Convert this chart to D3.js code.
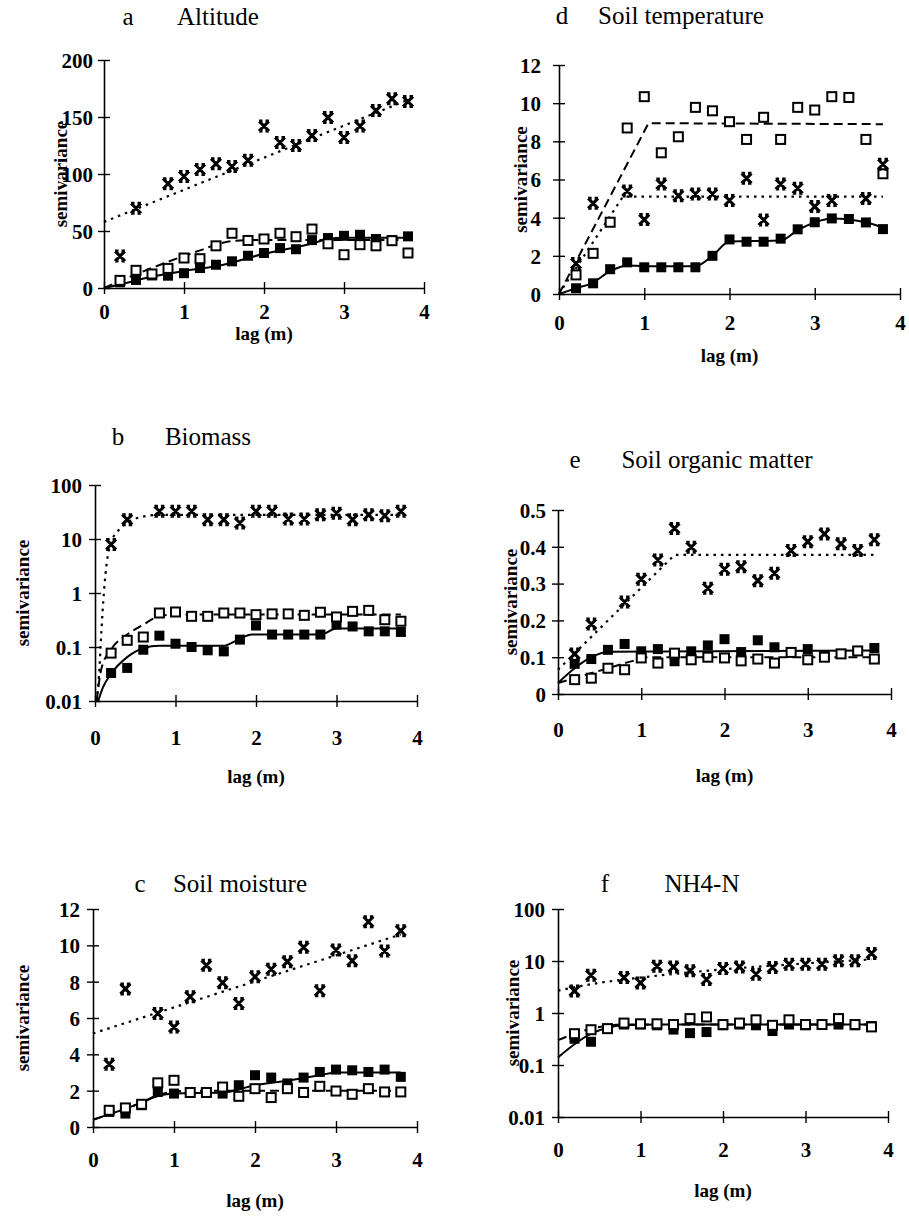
<!DOCTYPE html>
<html><head><meta charset="utf-8">
<script src="https://cdn.jsdelivr.net/npm/d3@7"></script>
<style>body{margin:0;background:#fff}svg{display:block}text{font-family:"Liberation Serif","Times New Roman",serif;fill:#000}</style>
</head><body>
<script>
// ---- data ----
const lags = [0.2,0.4,0.6,0.8,1.0,1.2,1.4,1.6,1.8,2.0,2.2,2.4,2.6,2.8,3.0,3.2,3.4,3.6,3.8];
const xTicks = [0,1,2,3,4];

// a Altitude
const altitudeFilled = [5,7,11,10.8,13,17.5,20.4,23.4,28.3,30.7,35,34,42,43.8,45.8,46.7,43,42,45.3];
const altitudeOpen   = [6.7,15.5,12.3,17.2,26.3,25.7,37,48,41.7,43,48,45,51.7,38.8,29.2,38,37,41.5,30.7];
const altitudeCross  = [28,70,null,91.4,97.8,104,109,106.6,112,142,127.6,125,133.7,149.5,132,142,155.6,166,163.5];
const altitudeFitFilled = [[0,0],[0.2,3],[0.6,10],[1.0,15],[1.4,19],[2.0,30],[2.6,39],[2.8,43],[3.0,44],[3.8,44]];
const altitudeFitOpen   = [[0,0],[0.4,12],[0.8,23],[1.2,33],[1.5,40],[1.8,42],[3.8,42]];
const altitudeFitCross  = [[0,58],[3.8,165]];
const altitudeTicks = [0,50,100,150,200];

// b Biomass
const biomassFilled = [0.033,0.041,0.089,0.162,0.115,0.1,0.087,0.083,0.137,0.25,0.17,0.17,0.17,0.17,0.26,0.24,0.195,0.195,0.19];
const biomassOpen   = [0.077,0.133,0.153,0.426,0.445,0.37,0.37,0.426,0.426,0.397,0.41,0.41,0.386,0.44,0.36,0.457,0.477,0.32,0.30];
const biomassCross  = [7.9,22.8,null,32.6,32.6,32.6,22.8,22.8,19.8,32.6,32.6,23.5,23.5,28,30,22.8,28,27,32.6];
const biomassFitFilled = [[0.04,0.01],[0.1,0.018],[0.2,0.032],[0.4,0.065],[0.6,0.095],[0.8,0.105],[1.6,0.105],[1.75,0.13],[1.95,0.17],[2.8,0.17],[3.0,0.22],[3.8,0.22]];
const biomassFitOpen   = [[0.02,0.01],[0.08,0.04],[0.2,0.09],[0.4,0.17],[0.6,0.26],[0.8,0.37],[1.0,0.4],[3.8,0.4]];
const biomassFitCross  = [[0.02,0.01],[0.05,0.03],[0.08,0.2],[0.11,1],[0.15,4],[0.2,8.5],[0.3,15],[0.4,20],[0.55,25],[0.8,28],[3.8,28]];
const logTicks = [0.01,0.1,1,10,100];

// c Soil moisture
const moistureFilled = [0.83,0.74,1.2,1.93,1.84,1.9,1.9,1.84,2.3,2.85,2.72,2.4,2.72,3.03,3.16,3.12,3.03,3.16,2.76];
const moistureOpen   = [0.92,1.05,1.25,2.43,2.57,1.9,1.9,2.2,1.69,2.11,1.62,2.11,1.9,2.24,1.98,1.8,2.11,1.93,1.93];
const moistureCross  = [3.46,7.6,null,6.25,5.5,7.17,8.9,7.94,6.8,8.27,8.68,9.1,9.89,7.5,9.74,9.15,11.3,9.69,10.8];
const moistureFitFilled = [[0,0.4],[0.2,0.7],[0.4,1.0],[0.6,1.35],[0.8,1.7],[1.0,1.85],[1.6,1.9],[2.0,2.3],[2.4,2.55],[2.8,2.85],[3.0,3.0],[3.8,3.0]];
const moistureFitOpen   = [[0,0.4],[0.2,0.7],[0.4,1.0],[0.6,1.35],[0.8,1.75],[1.0,1.95],[1.2,2.0],[3.8,2.0]];
const moistureFitCross  = [[0,5.15],[3.8,10.6]];
const moistureTicks = [0,2,4,6,8,10,12];

// d Soil temperature
const temperatureFilled = [0.3,0.56,1.3,1.66,1.4,1.4,1.4,1.4,2.0,2.86,2.74,2.74,2.9,3.39,3.76,3.96,3.93,3.75,3.4];
const temperatureOpen   = [1.0,2.13,3.76,8.7,10.34,7.4,8.24,9.78,9.6,9.03,8.1,9.26,8.1,9.78,9.64,10.34,10.3,8.1,6.3];
const temperatureCross  = [1.6,4.75,null,5.4,3.9,5.76,5.15,5.24,5.24,4.9,6.06,3.88,5.76,5.54,4.58,4.9,null,5.0,6.8];
const temperatureFitFilled = [[0,0],[0.2,0.3],[0.4,0.6],[0.6,1.2],[0.8,1.5],[1.0,1.45],[1.6,1.45],[1.8,2.0],[2.0,2.75],[2.6,2.8],[2.8,3.35],[3.0,3.75],[3.2,3.95],[3.4,3.9],[3.6,3.75],[3.8,3.5]];
const temperatureFitOpen   = [[0,0],[1.05,8.95],[3.8,8.9]];
const temperatureFitCross  = [[0,0],[0.75,5.1],[3.8,5.1]];
const temperatureTicks = [0,2,4,6,8,10,12];

// e Soil organic matter
const organicFilled = [0.082,0.095,0.12,0.136,0.116,0.122,0.089,0.116,0.132,0.149,0.114,0.146,0.127,0.114,0.122,0.104,0.109,0.117,0.125];
const organicOpen   = [0.039,0.043,0.07,0.066,0.098,0.084,0.111,0.093,0.1,0.098,0.09,0.095,0.084,0.113,0.093,0.1,0.109,0.117,0.095];
const organicCross  = [0.109,0.19,null,0.25,0.312,0.364,0.45,0.399,0.2875,0.339,0.346,0.308,0.328,0.39,0.414,0.435,0.408,0.39,0.419];
const organicFitFilled = [[0,0.03],[0.2,0.07],[0.4,0.1],[0.6,0.115],[3.8,0.118]];
const organicFitOpen   = [[0,0.03],[0.3,0.05],[0.6,0.07],[0.9,0.09],[1.1,0.1],[3.8,0.1]];
const organicFitCross  = [[0,0.066],[1.4,0.378],[3.8,0.378]];
const organicTicks = [0,0.1,0.2,0.3,0.4,0.5];

// f NH4-N
const nh4Filled = [0.32,0.28,0.5,0.6,0.6,0.58,0.48,0.41,0.43,0.58,0.6,0.58,0.45,0.6,0.58,0.6,0.6,0.58,0.56];
const nh4Open   = [0.4,0.477,0.5,0.64,0.62,0.62,0.6,0.78,0.84,0.6,0.64,0.74,0.58,0.74,0.6,0.6,0.78,0.6,0.54];
const nh4Cross  = [2.66,5.33,null,4.8,3.79,7.95,7.7,6.46,4.4,7.17,7.7,5.57,7.5,8.7,8.7,8.7,10.1,10.1,14];
const nh4FitFilled = [[0,0.14],[0.2,0.25],[0.4,0.4],[0.6,0.52],[0.8,0.58],[1.2,0.6],[3.8,0.6]];
const nh4FitOpen   = [[0,0.3],[0.2,0.4],[0.4,0.5],[0.6,0.57],[0.8,0.6],[3.8,0.6]];
const nh4FitCross  = [[0,2.7],[0.5,3.8],[1,4.8],[2,6.9],[3,9],[3.8,10.7]];

// ---- layout / chart ----
const panels = [
  {letter:'a', title:'Altitude', filled:altitudeFilled, open:altitudeOpen, cross:altitudeCross,
   fit:[altitudeFitFilled, altitudeFitOpen, altitudeFitCross], curves:['smooth','smooth','linear'],
   log:false, yDomain:[0,200], yTicks:altitudeTicks,
   xr:[104,424], yr:[288,60], letterX:128, titleX:218, titleY:25, ylabX:60, xtickY:319, xlabY:340, ytickR:93},
  {letter:'d', title:'Soil temperature', filled:temperatureFilled, open:temperatureOpen, cross:temperatureCross,
   fit:[temperatureFitFilled, temperatureFitOpen, temperatureFitCross], curves:['smooth','linear','linear'],
   log:false, yDomain:[0,12], yTicks:temperatureTicks,
   xr:[559,900], yr:[294,65], letterX:562, titleX:681, titleY:24, ylabX:520, xtickY:330, xlabY:362, ytickR:541},
  {letter:'b', title:'Biomass', filled:biomassFilled, open:biomassOpen, cross:biomassCross,
   fit:[biomassFitFilled, biomassFitOpen, biomassFitCross], curves:['smooth','smooth','smooth'],
   log:true, yDomain:[0.01,100], yTicks:logTicks,
   xr:[95,417], yr:[701,485], letterX:118, titleX:208, titleY:445, ylabX:22, xtickY:745, xlabY:783, ytickR:82},
  {letter:'e', title:'Soil organic matter', filled:organicFilled, open:organicOpen, cross:organicCross,
   fit:[organicFitFilled, organicFitOpen, organicFitCross], curves:['smooth','smooth','linear'],
   log:false, yDomain:[0,0.5], yTicks:organicTicks,
   xr:[558,891], yr:[694,510], letterX:575, titleX:717, titleY:468, ylabX:510, xtickY:737, xlabY:782, ytickR:546},
  {letter:'c', title:'Soil moisture', filled:moistureFilled, open:moistureOpen, cross:moistureCross,
   fit:[moistureFitFilled, moistureFitOpen, moistureFitCross], curves:['smooth','smooth','linear'],
   log:false, yDomain:[0,12], yTicks:moistureTicks,
   xr:[93,417], yr:[1127,909], letterX:140, titleX:240, titleY:892, ylabX:22, xtickY:1167, xlabY:1207, ytickR:80},
  {letter:'f', title:'NH4-N', filled:nh4Filled, open:nh4Open, cross:nh4Cross,
   fit:[nh4FitFilled, nh4FitOpen, nh4FitCross], curves:['smooth','smooth','smooth'],
   log:true, yDomain:[0.01,100], yTicks:logTicks,
   xr:[558,888], yr:[1117,909], letterX:605, titleX:702, titleY:892, ylabX:512, xtickY:1157, xlabY:1197, ytickR:545}
];

const W = 909, H = 1221;
const svg = d3.select('body').append('svg').attr('width', W).attr('height', H);
const lineStyles = [
  {dash:null, width:2},
  {dash:'9,5', width:2},
  {dash:'2.5,5', width:2.2}
];

function fmt(v){ return String(v); }

panels.forEach(p => {
  const x = d3.scaleLinear().domain([0,4]).range(p.xr);
  const y = (p.log ? d3.scaleLog() : d3.scaleLinear()).domain(p.yDomain).range(p.yr).clamp(true);
  const g = svg.append('g');

  // axes
  const ax = g.append('g').attr('transform', `translate(0,${p.yr[0]})`)
    .call(d3.axisBottom(x).tickValues(xTicks).tickSizeOuter(0).tickFormat(d => fmt(d)));
  ax.select('.domain').attr('stroke','#000').attr('stroke-width',1.6);
  ax.selectAll('.tick line').attr('y1',-6).attr('y2',6).attr('stroke','#000').attr('stroke-width',1.4);
  ax.selectAll('.tick text').attr('y', p.xtickY - p.yr[0]).attr('dy',null)
    .style('font-size','21px').style('font-weight','bold');

  const ay = g.append('g').attr('transform', `translate(${p.xr[0]},0)`)
    .call(d3.axisLeft(y).tickValues(p.yTicks).tickSizeOuter(0).tickFormat(d => fmt(d)));
  ay.select('.domain').attr('stroke','#000').attr('stroke-width',1.6);
  ay.selectAll('.tick line').attr('x1',-6).attr('x2',6).attr('stroke','#000').attr('stroke-width',1.4);
  ay.selectAll('.tick text').attr('x', p.ytickR - p.xr[0]).attr('dy','0.35em')
    .style('font-size','21px').style('font-weight','bold');
  g.selectAll('.tick text').style('font-family','"Liberation Serif",serif').attr('fill','#000');

  // fitted model lines
  p.fit.forEach((pts, i) => {
    const s = lineStyles[i];
    const line = d3.line().x(d => x(d[0])).y(d => y(d[1]))
      .curve(p.curves[i] === 'linear' ? d3.curveLinear : d3.curveMonotoneX);
    g.append('path').datum(pts).attr('d', line).attr('fill','none')
      .attr('stroke','#000').attr('stroke-width', s.width)
      .attr('stroke-dasharray', s.dash);
  });

  // markers
  const filledPts = lags.map((l,i)=>[l,p.filled[i]]).filter(d=>d[1]!=null);
  const openPts = lags.map((l,i)=>[l,p.open[i]]).filter(d=>d[1]!=null);
  const crossPts = lags.map((l,i)=>[l,p.cross[i]]).filter(d=>d[1]!=null);

  g.selectAll('.fsq').data(filledPts).enter().append('rect')
    .attr('x', d => x(d[0]) - 5).attr('y', d => y(d[1]) - 5)
    .attr('width', 10).attr('height', 10).attr('fill','#000');
  g.selectAll('.osq').data(openPts).enter().append('rect')
    .attr('x', d => x(d[0]) - 4.5).attr('y', d => y(d[1]) - 4.5)
    .attr('width', 9).attr('height', 9).attr('fill','#fff')
    .attr('stroke','#000').attr('stroke-width',2);
  const cs = 5;
  g.selectAll('.cr').data(crossPts).enter().append('path')
    .attr('transform', d => `translate(${x(d[0])},${y(d[1])})`)
    .attr('d', `M${-cs},${-cs}L${cs},${cs}M${-cs},${cs}L${cs},${-cs}M${-cs},${-cs}L${-cs+3.5},${-cs}M${cs-3.5},${-cs}L${cs},${-cs}M${-cs},${cs}L${-cs+3.5},${cs}M${cs-3.5},${cs}L${cs},${cs}M0,-2.5L0,2.5`)
    .attr('fill','none').attr('stroke','#000').attr('stroke-width',3);

  // titles and labels
  g.append('text').attr('x', p.letterX).attr('y', p.titleY).attr('text-anchor','middle')
    .style('font-size','25px').text(p.letter);
  g.append('text').attr('x', p.titleX).attr('y', p.titleY).attr('text-anchor','middle')
    .style('font-size','25px').text(p.title);
  const ymid = (p.yr[0] + p.yr[1]) / 2;
  g.append('text').attr('transform', `translate(${p.ylabX},${ymid}) rotate(-90)`)
    .attr('text-anchor','middle').attr('dy','0.35em')
    .style('font-size','19px').style('font-weight','bold').text('semivariance');
  g.append('text').attr('x', (p.xr[0]+p.xr[1])/2).attr('y', p.xlabY).attr('text-anchor','middle')
    .style('font-size','19px').style('font-weight','bold').text('lag (m)');
});
</script>
</body></html>
